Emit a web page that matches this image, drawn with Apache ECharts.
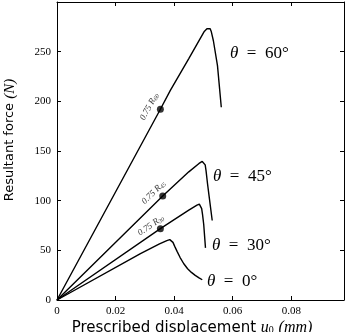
<!DOCTYPE html>
<html>
<head>
<meta charset="utf-8">
<script src="https://cdn.jsdelivr.net/npm/echarts@6/dist/echarts.min.js"></script>
<style>
  html, body { margin: 0; padding: 0; background: #fff; }
  #chart { width: 350px; height: 332px; }
</style>
</head>
<body>
<div id="chart"></div>
<script>
// prescribed displacement (mm) and resultant force (N) per angle
let disp60 = [0, 0.0353, 0.0387, 0.045, 0.0502, 0.0512, 0.0518, 0.0523, 0.0527, 0.0534, 0.0548, 0.0561]
let force60 = [0, 192, 211, 243, 270, 273, 274, 273, 270, 261, 236, 194]

let disp45 = [0, 0.0361, 0.045, 0.0485, 0.0496, 0.0502, 0.0506, 0.0509, 0.0514, 0.052, 0.053]
let force45 = [0, 104.6, 129, 137.5, 139.5, 139, 136, 130, 117, 103, 80]

let disp30 = [0, 0.0353, 0.045, 0.0478, 0.0486, 0.0491, 0.0494, 0.0497, 0.0501, 0.0507]
let force30 = [0, 71.8, 90.5, 95.5, 96.5, 95.5, 92, 86, 76, 52.5]

let disp0 = [0, 0.0285, 0.035, 0.0375, 0.0385, 0.0391, 0.0396, 0.0402, 0.041, 0.042, 0.0433, 0.0446, 0.0459, 0.0472, 0.0485, 0.0496]
let force0 = [0, 46.6, 56.5, 59.8, 60.8, 60.3, 58, 54, 49, 43, 36.5, 31.5, 27.8, 24.8, 22.3, 20.4]

// 0.75 R markers
let markDisp = [0.0353, 0.0361, 0.0353]
let markForce = [192, 104.6, 71.8]
let markSub = ['60', '45', '30']

let xTicks = [0, 0.02, 0.04, 0.06, 0.08]
let yTicks = [0, 50, 100, 150, 200, 250]

let markAngle = [61.6, 44.6, 34.7]
let markOffset = [[-3, -11], [-4, -9], [-6, -8]]

function pairs(xs, ys) {
  return xs.map((x, i) => [x, ys[i]])
}

let serif = 'Liberation Serif'
let frame = { show: true, onZero: false, lineStyle: { color: '#000', width: 1 } }
let tick = { show: true, inside: true, length: 4, lineStyle: { color: '#000', width: 1 } }

let curve = (name, d) => ({
  name: name,
  type: 'line',
  data: d,
  symbol: 'none',
  smooth: false,
  lineStyle: { color: '#000', width: 1.4 },
  z: 2,
})

let option = {
  animation: false,
  grid: { left: 57, right: 6, top: 2, bottom: 32 },
  xAxis: [
    {
      type: 'value', min: 0, max: 0.098, interval: 0.02,
      axisLine: frame, axisTick: tick, splitLine: { show: false },
      axisLabel: {
        color: '#000', fontFamily: serif, fontSize: 11, margin: 6,
        showMaxLabel: false,
        formatter: v => (xTicks.indexOf(+v.toFixed(2)) < 0 ? '' : v === 0 ? '0' : v.toFixed(2)),
      },
    },
    {
      type: 'value', position: 'top', min: 0, max: 0.098, interval: 0.02,
      axisLine: frame, axisTick: tick, splitLine: { show: false }, axisLabel: { show: false },
    },
  ],
  yAxis: [
    {
      type: 'value', min: 0, max: 300, interval: 50,
      axisLine: frame, axisTick: tick, splitLine: { show: false },
      axisLabel: {
        color: '#000', fontFamily: serif, fontSize: 11, margin: 6,
        showMaxLabel: false,
        formatter: v => (yTicks.indexOf(v) < 0 ? '' : String(v)),
      },
    },
    {
      type: 'value', position: 'right', min: 0, max: 300, interval: 50,
      axisLine: frame, axisTick: tick, splitLine: { show: false }, axisLabel: { show: false },
    },
  ],
  series: [
    curve('60', pairs(disp60, force60)),
    curve('45', pairs(disp45, force45)),
    curve('30', pairs(disp30, force30)),
    curve('0', pairs(disp0, force0)),
    {
      type: 'scatter',
      symbolSize: 7,
      itemStyle: { color: '#000' },
      z: 3,
      data: markDisp.map((x, i) => ({
        value: [x, markForce[i]],
        label: {
          show: true,
          position: 'inside',
          rotate: markAngle[i],
          offset: markOffset[i],
          formatter: '{a|0.75 R}{s|' + markSub[i] + '}',
          rich: {
            a: { fontFamily: serif, fontStyle: 'italic', fontSize: 9, color: '#000' },
            s: { fontFamily: serif, fontStyle: 'italic', fontSize: 6, color: '#000', padding: [4, 0, 0, 0] },
          },
        },
      })),
    },
  ],
  graphic: [
    {
      type: 'text', x: 230, y: 54,
      style: {
        text: '{i|θ}  =  60°', fontFamily: serif, fontSize: 17, fill: '#000',
        verticalAlign: 'middle', rich: { i: { fontFamily: serif, fontStyle: 'italic', fontSize: 17 } },
      },
    },
    {
      type: 'text', x: 213, y: 177,
      style: {
        text: '{i|θ}  =  45°', fontFamily: serif, fontSize: 17, fill: '#000',
        verticalAlign: 'middle', rich: { i: { fontFamily: serif, fontStyle: 'italic', fontSize: 17 } },
      },
    },
    {
      type: 'text', x: 212, y: 246,
      style: {
        text: '{i|θ}  =  30°', fontFamily: serif, fontSize: 17, fill: '#000',
        verticalAlign: 'middle', rich: { i: { fontFamily: serif, fontStyle: 'italic', fontSize: 17 } },
      },
    },
    {
      type: 'text', x: 207, y: 282,
      style: {
        text: '{i|θ}  =  0°', fontFamily: serif, fontSize: 17, fill: '#000',
        verticalAlign: 'middle', rich: { i: { fontFamily: serif, fontStyle: 'italic', fontSize: 17 } },
      },
    },
    {
      type: 'text', x: 192, y: 320,
      style: {
        text: 'Prescribed displacement {i|u}{s|0} {m|(mm)}',
        fontFamily: 'DejaVu Sans', fontSize: 15, fill: '#000', align: 'center', verticalAlign: 'top',
        rich: {
          i: { fontFamily: serif, fontStyle: 'italic', fontSize: 16 },
          s: { fontFamily: serif, fontSize: 10, padding: [5, 0, 0, 0] },
          m: { fontFamily: serif, fontStyle: 'italic', fontSize: 16 },
        },
      },
    },
    {
      type: 'text', x: 10, y: 140, rotation: Math.PI / 2,
      style: {
        text: 'Resultant force {m|(N)}',
        fontFamily: 'DejaVu Sans', fontSize: 13, fill: '#000', align: 'center', verticalAlign: 'middle',
        rich: { m: { fontFamily: serif, fontStyle: 'italic', fontSize: 15 } },
      },
    },
  ],
}

let mychart = echarts.init(document.getElementById('chart'))
mychart.setOption(option)
</script>
</body>
</html>
